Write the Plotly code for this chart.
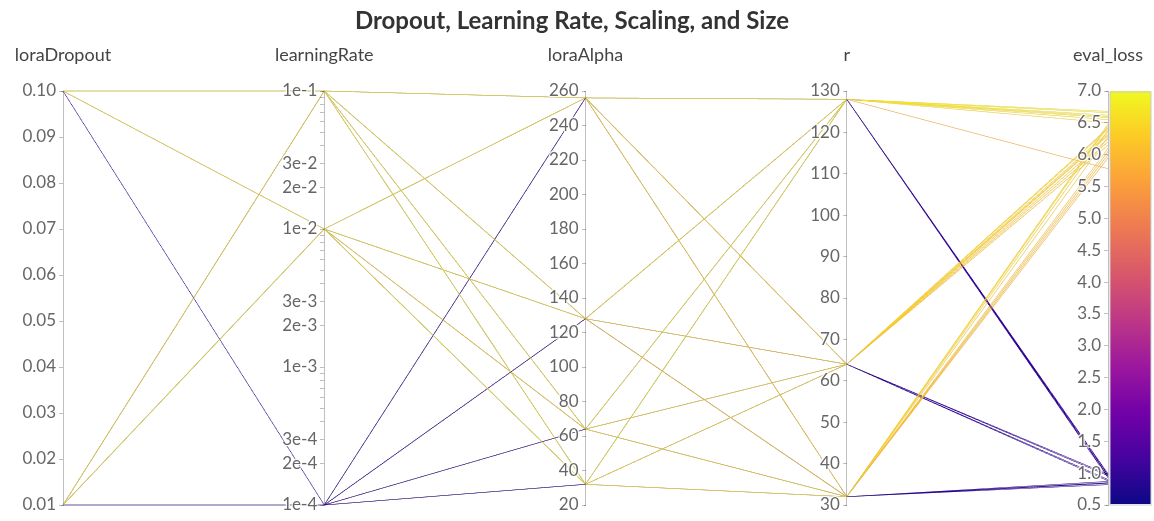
import math
import plotly.graph_objects as go

# One row per training run
lora_dropout = [
    0.10, 0.10, 0.01, 0.10, 0.10, 0.01, 0.10, 0.01, 0.10, 0.10, 0.01, 0.10,
    0.10, 0.10, 0.01, 0.10, 0.01, 0.10, 0.01, 0.10, 0.10, 0.01, 0.10, 0.10,
    0.01, 0.01, 0.01, 0.01, 0.01, 0.01, 0.01, 0.01, 0.01, 0.01, 0.01, 0.10,
]
learning_rate = [
    1e-1, 1e-1, 1e-1, 1e-1, 1e-1, 1e-1, 1e-1, 1e-1, 1e-1, 1e-1, 1e-1, 1e-1,
    1e-2, 1e-2, 1e-2, 1e-2, 1e-2, 1e-2, 1e-2, 1e-2, 1e-2, 1e-2, 1e-2, 1e-2,
    1e-4, 1e-4, 1e-4, 1e-4, 1e-4, 1e-4, 1e-4, 1e-4, 1e-4, 1e-4, 1e-4, 1e-4,
]
lora_alpha = [
    256, 256, 256, 128, 128, 128, 64, 64, 64, 32, 32, 32,
    256, 256, 256, 128, 128, 128, 64, 64, 64, 32, 32, 32,
    256, 256, 128, 128, 128, 64, 64, 64, 32, 32, 32, 256,
]
lora_r = [
    128, 64, 32, 128, 64, 32, 128, 64, 32, 128, 64, 32,
    128, 64, 32, 128, 64, 32, 128, 64, 32, 128, 64, 32,
    128, 64, 128, 64, 32, 128, 64, 32, 128, 64, 32, 32,
]
eval_loss = [
    6.62, 6.35, 6.28, 6.55, 6.20, 6.05, 6.60, 6.40, 5.95, 6.68, 6.30, 6.45,
    6.58, 6.25, 6.10, 6.50, 6.15, 6.00, 5.78, 6.32, 6.38, 6.66, 6.42, 6.48,
    0.93, 0.88, 0.95, 0.90, 0.82, 0.97, 0.96, 0.85, 0.99, 0.98, 0.87, 0.84,
]

dropout_ticks = [0.01, 0.02, 0.03, 0.04, 0.05, 0.06, 0.07, 0.08, 0.09, 0.10]
alpha_ticks = list(range(20, 261, 20))
r_ticks = list(range(30, 131, 10))
loss_ticks = [0.5, 1.0, 1.5, 2.0, 2.5, 3.0, 3.5, 4.0, 4.5, 5.0, 5.5, 6.0, 6.5, 7.0]

# Log-scale learning-rate axis: labelled at 1, 2, 3 x 10^k, bare ticks elsewhere.
# Tick texts must be unique, so unlabelled ticks get distinct runs of spaces.
lr_tickvals, lr_ticktext = [], []
blank = 1
for exp in (-4, -3, -2):
    for k in range(1, 10):
        lr_tickvals.append(math.log10(k) + exp)
        if k in (1, 2, 3):
            lr_ticktext.append(f"{k}e{exp}")
        else:
            lr_ticktext.append("\u00a0" * blank)
            blank += 1
lr_tickvals.append(-1.0)
lr_ticktext.append("1e-1")

log_lr = [math.log10(v) for v in learning_rate]

font_family = "Lato, 'Noto Sans', sans-serif"

fig = go.Figure(
    go.Parcoords(
        line=dict(
            color=eval_loss,
            colorscale="Plasma",
            cmin=0.5,
            cmax=7.0,
            showscale=True,
            colorbar=dict(
                x=1.002,
                xanchor="left",
                y=0.5,
                yanchor="middle",
                len=0.988,
                thickness=41,
                xpad=0,
                ypad=0,
                outlinewidth=1,
                outlinecolor="#cccccc",
                showticklabels=False,
                ticks="",
            ),
        ),
        dimensions=[
            dict(label="loraDropout", values=lora_dropout, range=[0.01, 0.10],
                 tickvals=dropout_ticks, ticktext=[f"{v:.2f}" for v in dropout_ticks]),
            dict(label="learningRate", values=log_lr, range=[-4, -1],
                 tickvals=lr_tickvals, ticktext=lr_ticktext),
            dict(label="loraAlpha", values=lora_alpha, range=[20, 260],
                 tickvals=alpha_ticks, ticktext=[str(v) for v in alpha_ticks]),
            dict(label="r", values=lora_r, range=[30, 130],
                 tickvals=r_ticks, ticktext=[str(v) for v in r_ticks]),
            dict(label="eval_loss", values=eval_loss, range=[0.5, 7.0],
                 tickvals=loss_ticks, ticktext=[f"{v:.1f}" for v in loss_ticks]),
        ],
        labelfont=dict(family=font_family, size=18, color="#444444"),
        tickfont=dict(family=font_family, size=17, color="#666666"),
        rangefont=dict(family=font_family, size=1, color="rgba(0,0,0,0)"),
    )
)

fig.update_layout(
    width=1154,
    height=521,
    margin=dict(l=63, r=46, t=89, b=14, autoexpand=False),
    paper_bgcolor="white",
    plot_bgcolor="white",
    font=dict(family=font_family),
    title=dict(
        text="<b>Dropout, Learning Rate, Scaling, and Size</b>",
        x=572 / 1154,
        xanchor="center",
        y=1 - 21 / 521,
        yanchor="middle",
        font=dict(family=font_family, size=24, color="#333333"),
    ),
)

fig.write_html("out.html")
